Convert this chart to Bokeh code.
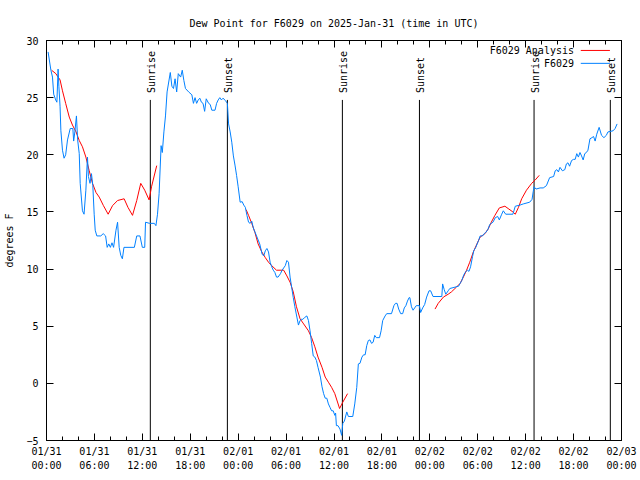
import math
from bokeh.plotting import figure
from bokeh.models import Range1d, LinearAxis, FixedTicker, ColumnDataSource, Label, Arrow
from bokeh.core.properties import value
from bokeh.embed import file_html
from bokeh.resources import INLINE

FONT = "DejaVu Sans Mono"
NAN = float("nan")

title_text = "Dew Point for F6029 on 2025-Jan-31 (time in UTC)"
y_label = "degrees F"

# x axis: hours since 01/31 00:00 UTC
x_tick_hours = [0, 6, 12, 18, 24, 30, 36, 42, 48, 54, 60, 66, 72]
x_tick_labels = ["01/31\n00:00", "01/31\n06:00", "01/31\n12:00", "01/31\n18:00",
                 "02/01\n00:00", "02/01\n06:00", "02/01\n12:00", "02/01\n18:00",
                 "02/02\n00:00", "02/02\n06:00", "02/02\n12:00", "02/02\n18:00",
                 "02/03\n00:00"]
x_minor_hours = [h for h in range(0, 73, 2) if h % 6 != 0]
y_ticks = [-5, 0, 5, 10, 15, 20, 25, 30]

# observed dew point (F6029)
obs_hours = [0.2, 0.55, 0.75, 0.9, 1.15, 1.3, 1.45, 1.55, 1.7, 1.8, 2.0, 2.2, 2.4, 2.63, 2.97,
             3.3, 3.4, 3.55, 3.75, 3.9, 4.1, 4.22, 4.5, 4.7, 4.93, 5.13, 5.25, 5.45, 5.63, 5.8,
             5.97, 6.1, 6.3, 6.8, 7.1, 7.4, 7.6, 7.8, 8.0, 8.2, 8.4, 8.7, 8.9, 9.1, 9.3, 9.5,
             9.7, 11.0, 11.3, 11.7, 12.0, 12.3, 12.4, 12.9, 13.5, 13.7, 13.9, 14.1, 14.35, 14.5,
             14.7, 14.9, 15.1, 15.5, 15.7, 15.9, 16.1, 16.3, 16.5, 16.8, 17.0, 17.2, 17.4, 17.8,
             18.2, 18.4, 18.6, 18.8, 19.0, 19.2, 19.4, 19.6, 19.8, 20.0, 20.3, 20.5, 20.7, 21.1,
             21.3, 21.5, 21.7, 21.9, 22.1, 22.4, 22.65, 22.8, 23.0, 23.2, 23.4, 23.6, 23.8, 24.0,
             24.25, 24.5, 24.7, 24.9, 25.1, 25.3, 25.5, 25.7, 25.9, 26.3, 26.7, 27.0, 27.2, 27.4,
             27.6, 27.8, 28.0, 28.2, 28.4, 28.6, 28.8, 29.0, 29.3, 29.5, 29.9, 30.1, 30.3, 30.5,
             30.7, 30.9, 31.1, 31.35, 31.55, 31.75, 31.9, 32.1, 32.3, 32.6, 32.8, 33.0, 33.2, 33.4,
             33.6, 33.8, 34.0, 34.3, 34.5, 34.7, 34.9, 35.1, 35.3, 35.5, 35.7, 35.9, 36.1, 36.2,
             36.3, 36.5, 36.75, 36.96, 37.1, 37.3, 37.6, 37.8, 38.0, 38.35, 38.6, 38.85, 39.05,
             39.25, 39.5, 39.7, 39.9, 40.1, 40.3, 40.5, 40.7, 40.9, 41.1, 41.3, 41.7, 41.9, 42.1,
             42.4, 42.6, 43.2, 43.5, 43.7, 43.9, 44.1, 44.35, 44.6, 44.8, 45.0, 45.2, 45.4, 45.5,
             45.7, 45.9, 46.1, 46.3, 46.7, 46.85, 47.1, 47.35, 47.6, 47.9, 48.1, 48.4, 49.5, 49.6,
             49.8, 50.0, 50.3, 50.5, 51.6, 51.8, 52.0, 52.2, 52.4, 52.7, 52.9, 53.1, 53.35, 53.5,
             53.75, 54.1, 54.3, 54.6, 54.8, 55.0, 55.3, 55.5, 55.9, 56.2, 56.5, 56.7, 57.0, 57.2,
             57.5, 58.4, 58.7, 59.3, 59.7, 60.5, 60.8, 60.95, 61.05, 61.3, 61.8, 62.2, 62.6, 63.0,
             63.5, 63.7, 63.9, 64.1, 64.3, 64.6, 64.9, 65.1, 65.3, 65.5, 65.75, 66.0, 66.2, 66.4,
             66.6, 66.8, 67.0, 67.2, 67.4, 67.6, 67.8, 68.05, 68.3, 68.5, 68.7, 68.9, 69.2, 69.5,
             69.8, 70.1, 70.3, 70.95, 71.2, 71.45]
obs_dewpt = [29.0, 27.4, 26.8, 25.3, 24.8, 24.6, 27.5, 26.0, 24.2, 22.1, 20.4, 19.7, 20.0, 21.3, 22.3,
             22.3, 21.2, 22.0, 23.4, 21.3, 20.1, 17.5, 15.1, 14.8, 16.9, 19.8, 18.1, 17.5, 18.35, 17.3,
             14.8, 13.4, 12.9, 12.9, 13.1, 12.9, 11.9, 12.2, 11.9, 12.3, 11.9, 13.4, 14.1, 11.9, 11.2, 10.9,
             11.9, 11.9, 12.9, 12.9, 11.9, 11.9, 14.1, 14.0, 14.0, 13.8, 14.8, 16.6, 20.8, 20.2,
             22.0, 23.4, 25.5, 27.2, 26.0, 25.8, 26.65, 25.5, 27.1, 26.8, 27.4, 26.5, 25.8, 25.5,
             25.25, 24.5, 25.0, 24.5, 24.8, 24.95, 24.6, 24.5, 23.8, 24.9, 24.5, 24.4, 23.9, 23.9,
             24.5, 24.8, 25.0, 24.8, 24.95, 24.75, 24.5, 22.7, 22.0, 21.1, 19.9, 19.1, 18.2, 17.2,
             15.85, 15.9, 15.6, 15.4, 14.7, 14.1, 14.0, 14.2, 13.6, 12.9, 12.2, 11.3, 11.15, 11.6,
             11.8, 11.5, 10.6, 10.2, 9.9, 9.7, 9.3, 9.3, 9.6, 9.9, 10.3, 10.75, 10.6, 9.3,
             8.4, 7.5, 6.7, 5.8, 5.1, 5.5, 5.6, 5.6, 5.75, 5.9, 5.5, 4.6, 3.5, 2.4,
             2.3, 2.0, 1.4, 0.55, -0.3, -0.9, -1.3, -1.3, -1.8, -2.1, -2.4, -2.4, -2.8, -2.6,
             -3.7, -3.7, -4.0, -4.55, -3.5, -3.3, -2.5, -2.9, -2.9, -2.9, -1.8, -0.35, 1.7,
             1.75, 2.3, 2.5, 2.5, 3.3, 3.75, 3.8, 3.5, 3.6, 4.2, 4.0, 4.0, 4.6, 5.5,
             5.9, 6.1, 6.1, 6.8, 7.0, 7.0, 6.5, 6.1, 6.1, 6.6, 6.8, 7.2, 7.5, 7.5,
             6.7, 6.4, 6.6, 6.8, 6.8, 6.2, 6.6, 6.9, 7.55, 8.1, 8.1, 7.6, 7.6, 8.7,
             8.2, 7.8, 8.1, 8.3, 8.5, 8.75, 9.0, 9.4, 9.7, 9.9, 9.8, 10.2, 11.1, 11.6,
             11.9, 12.5, 12.9, 12.9, 13.1, 13.2, 13.5, 13.9, 14.1, 14.5, 14.6, 14.3, 14.8, 15.1,
             14.8, 14.8, 15.5, 15.6, 15.7, 15.85, 16.1, 16.8, 17.2, 17.0, 17.1, 17.1, 17.3, 18.0,
             18.1, 18.6, 18.7, 18.5, 18.9, 18.6, 18.7, 19.2, 19.3, 19.0, 19.5, 19.6, 19.6, 20.1,
             19.8, 20.2, 19.9, 19.55, 20.1, 20.2, 20.4, 21.4, 21.5, 21.6, 21.2, 21.8, 22.4, 21.7,
             21.5, 21.7, 22.0, 22.1, 22.3, 22.7]

# analysis dew point (F6029 Analysis), three runs separated by gaps
ana_hours = [0.63, 1.17, 1.7, 2.0, 2.4, 2.85, 3.25, 3.7, 4.1, 4.5, 4.93, 5.35, 5.76, 6.2, 6.6,
             7.13, 7.72, 8.27, 8.9, 9.72, 10.2, 10.77, 11.3, 11.8, 12.3, 12.85, 13.15, 13.8, NAN,
             25.0, 25.3, 25.7, 26.1, 26.5, 26.96, 27.4, 27.8, 28.2, 28.8, 29.7, 30.1, 30.5, 30.9,
             31.3, 31.75, 32.2, 32.8, 33.2, 33.6, 34.0, 34.5, 34.9, 35.3, 35.7, 36.1, 36.7, 37.1,
             37.7, NAN,
             48.65, 49.05, 49.7, 50.3, 50.7, 51.3, 51.8, 52.2, 52.6, 53.0, 53.45, 53.9, 54.3, 54.9,
             55.3, 55.7, 56.15, 56.7, 57.4, 57.8, 58.4, 58.7, 59.1, 59.5, 60.1, 60.75, 61.2, 61.7]
ana_dewpt = [27.4, 27.1, 26.55, 25.6, 24.5, 23.3, 22.6, 22.0, 21.25, 20.7, 19.8, 18.6, 17.5, 16.7, 16.3,
             15.55, 14.8, 15.55, 16.0, 16.15, 15.4, 14.7, 16.0, 17.5, 16.9, 16.05, 17.2, 19.05, NAN,
             15.2, 14.7, 14.0, 13.2, 12.2, 11.5, 11.0, 10.6, 10.3, 9.9, 9.9, 9.4, 8.85, 8.0,
             6.7, 5.65, 5.2, 4.6, 4.0, 3.2, 2.3, 1.4, 0.55, 0.1, -0.35, -0.9, -2.2, -1.65,
             -0.9, NAN,
             6.5, 7.0, 7.55, 7.8, 8.0, 8.4, 8.75, 9.3, 9.9, 10.6, 11.5, 12.2, 12.8, 13.1,
             13.5, 14.1, 14.7, 15.35, 15.5, 15.3, 15.0, 14.8, 15.4, 16.15, 16.9, 17.5, 17.8, 18.2]

# sunrise / sunset markers
sun_hours = [13.0, 22.65, 37.05, 46.7, 61.05, 70.6]
sun_labels = ["Sunrise", "Sunset", "Sunrise", "Sunset", "Sunrise", "Sunset"]
sun_line_top = 24.8
sun_label_y = 25.4

legend_names = ["F6029 Analysis", "F6029"]
RED = "#ff0000"
BLUE = "#0080ff"

p = figure(width=640, height=480, output_backend="svg", toolbar_location=None,
           x_range=Range1d(0, 72), y_range=Range1d(-5, 30),
           min_border_left=46, min_border_right=19, min_border_top=40, min_border_bottom=40,
           x_axis_location=None, y_axis_location=None)
p.background_fill_color = "white"
p.border_fill_color = "white"
p.outline_line_color = "black"
p.outline_line_width = 1
p.xgrid.visible = False
p.ygrid.visible = False

p.title.text = title_text
p.title.align = "center"
p.title.text_font = FONT
p.title.text_font_size = "10px"
p.title.text_font_style = "normal"
p.title.text_color = "black"
p.title.standoff = 23

xt = FixedTicker(ticks=x_tick_hours, minor_ticks=x_minor_hours)
yt = FixedTicker(ticks=y_ticks, minor_ticks=[])

def style_axis(ax):
    ax.axis_line_color = "black"
    ax.major_tick_line_color = "black"
    ax.minor_tick_line_color = "black"
    ax.major_tick_in = 7
    ax.major_tick_out = 0
    ax.minor_tick_in = 4
    ax.minor_tick_out = 0
    ax.major_label_text_font = FONT
    ax.major_label_text_font_size = "10px"
    ax.major_label_text_color = "black"
    ax.axis_label_text_font = FONT
    ax.axis_label_text_font_size = "10px"
    ax.axis_label_text_font_style = "normal"
    ax.axis_label_text_color = "black"

xb = LinearAxis(ticker=xt, major_label_overrides={h: s for h, s in zip(x_tick_hours, x_tick_labels)})
style_axis(xb)
xb.major_label_standoff = 5
xb.major_label_text_line_height = 1.3
p.add_layout(xb, "below")

xa = LinearAxis(ticker=xt, major_label_overrides={h: "" for h in x_tick_hours})
style_axis(xa)
xa.major_label_standoff = 0
p.add_layout(xa, "above")

yl = LinearAxis(ticker=yt, axis_label=y_label)
style_axis(yl)
yl.major_label_standoff = 8
yl.axis_label_standoff = 8
p.add_layout(yl, "left")

yr = LinearAxis(ticker=yt, major_label_overrides={t: "" for t in y_ticks})
style_axis(yr)
yr.major_label_standoff = 0
p.add_layout(yr, "right")

# sunrise / sunset lines and labels
sun_src = ColumnDataSource(dict(x=sun_hours, y0=[-5] * len(sun_hours),
                                y1=[sun_line_top] * len(sun_hours),
                                ly=[sun_label_y] * len(sun_hours), text=sun_labels))
p.segment(x0="x", y0="y0", x1="x", y1="y1", source=sun_src, line_color="black", line_width=1)
p.text(x="x", y="ly", text="text", source=sun_src, angle=math.pi / 2,
       text_align="left", text_baseline="middle", x_offset=1,
       text_font=value(FONT), text_font_size="10px", text_color="black")

# data lines
p.line(ana_hours, ana_dewpt, line_color=RED, line_width=1)
p.line(obs_hours, obs_dewpt, line_color=BLUE, line_width=1)

# gnuplot-style legend (text right-aligned, sample line on the right)
leg_y = [29.13, 28.0]
leg_colors = [RED, BLUE]
for name, yy, col in zip(legend_names, leg_y, leg_colors):
    p.add_layout(Label(x=66.05, y=yy, text=name, text_align="right", text_baseline="middle",
                       text_font=FONT, text_font_size="10px", text_color="black"))
    p.add_layout(Arrow(end=None, x_start=66.9, y_start=yy, x_end=70.55, y_end=yy,
                       line_color=col, line_width=1))

open("out.html", "w").write(file_html(p, INLINE))
